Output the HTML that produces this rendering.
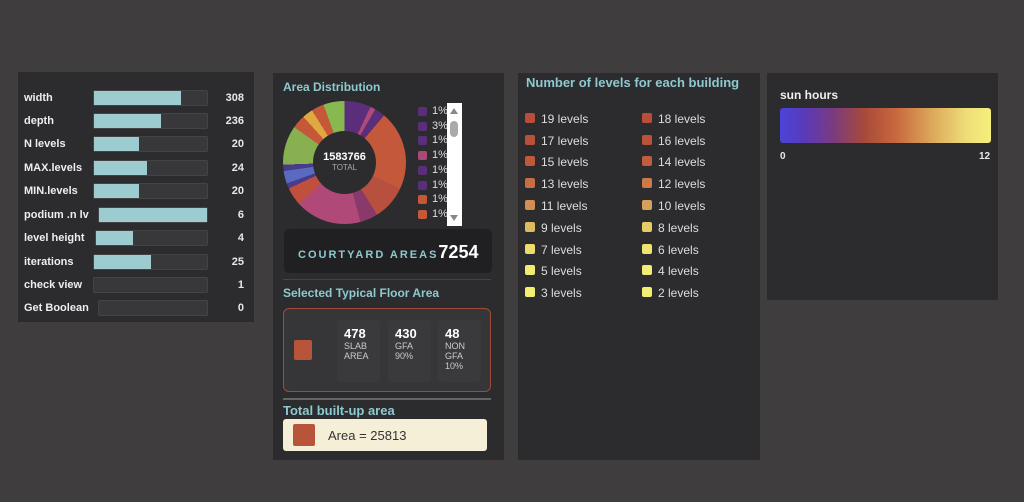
<!DOCTYPE html>
<html><head><meta charset="utf-8"><style>
*{box-sizing:border-box;margin:0;padding:0}
body{width:1024px;height:502px;background:#3f3d3d;font-family:"Liberation Sans",Arial,sans-serif;position:relative;overflow:hidden;color:#e8e8e8}
.p{position:absolute;background:#2c2c2e}
.row{position:absolute;left:6px;font-size:11px;font-weight:bold;color:#eee}
.bar{position:absolute;height:16px;background:#38383a;border:1px solid #444;border-radius:2px}
.bar i{display:block;height:100%;background:#9ccbd0}
.val{position:absolute;right:10px;font-size:11px;font-weight:bold;text-align:right}
.t{position:absolute;color:#8ec9cf;font-weight:bold;font-size:12px}
.lg{position:absolute;font-size:11px;color:#ddd}
.lg b{position:absolute;left:-14px;top:2px;width:9px;height:9px;border-radius:2px}
.lv{position:absolute;font-size:12px;color:#ddd}
.lv b{position:absolute;left:-16px;top:1px;width:10px;height:10px;border-radius:2px}
.box{position:absolute;top:11px;width:43px;height:62px;background:#3a3a3d;border-radius:4px;padding:6px 0 0 7px;font-size:9px;color:#ccc;line-height:10px}
.box div{font-size:13px;font-weight:bold;color:#fff;line-height:15px}
</style></head><body>

<div class="p" style="left:18px;top:72px;width:236px;height:250px">
<div class="row" style="top:20px">width</div><div class="bar" style="left:75px;top:18px;width:115px"><i style="width:77%"></i></div><div class="val" style="top:20px">308</div>
<div class="row" style="top:43px">depth</div><div class="bar" style="left:75px;top:41px;width:115px"><i style="width:59%"></i></div><div class="val" style="top:43px">236</div>
<div class="row" style="top:66px">N levels</div><div class="bar" style="left:75px;top:64px;width:115px"><i style="width:40%"></i></div><div class="val" style="top:66px">20</div>
<div class="row" style="top:90px">MAX.levels</div><div class="bar" style="left:75px;top:88px;width:115px"><i style="width:47%"></i></div><div class="val" style="top:90px">24</div>
<div class="row" style="top:113px">MIN.levels</div><div class="bar" style="left:75px;top:111px;width:115px"><i style="width:40%"></i></div><div class="val" style="top:113px">20</div>
<div class="row" style="top:137px">podium .n lv</div><div class="bar" style="left:80px;top:135px;width:110px"><i style="width:100%"></i></div><div class="val" style="top:137px">6</div>
<div class="row" style="top:160px">level height</div><div class="bar" style="left:77px;top:158px;width:113px"><i style="width:33%"></i></div><div class="val" style="top:160px">4</div>
<div class="row" style="top:184px">iterations</div><div class="bar" style="left:75px;top:182px;width:115px"><i style="width:50%"></i></div><div class="val" style="top:184px">25</div>
<div class="row" style="top:207px">check view</div><div class="bar" style="left:75px;top:205px;width:115px"></div><div class="val" style="top:207px">1</div>
<div class="row" style="top:230px">Get Boolean</div><div class="bar" style="left:80px;top:228px;width:110px"></div><div class="val" style="top:230px">0</div>
</div>

<div class="p" style="left:273px;top:73px;width:231px;height:387px">
<div class="t" style="left:10px;top:7px">Area Distribution</div>
<div style="position:absolute;left:10px;top:28px;width:123px;height:123px;border-radius:50%;background:conic-gradient(#5a2e7a 0 25deg,#b04a78 25deg 30deg,#5a2e7a 30deg 40deg,#c4583a 40deg 115deg,#b85040 115deg 148deg,#8a3a6a 148deg 165deg,#b04878 165deg 228deg,#c0503c 228deg 245deg,#4a3a8a 245deg 250deg,#5a6ac0 250deg 262deg,#4a3a8a 262deg 268deg,#88b050 268deg 305deg,#c45838 305deg 318deg,#e0a840 318deg 328deg,#c45838 328deg 340deg,#88b850 340deg 360deg)"></div>
<div style="position:absolute;left:40px;top:58px;width:63px;height:63px;border-radius:50%;background:#2c2c2e;text-align:center;padding-top:20px;font-size:11px;font-weight:bold;color:#fff">1583766<div style="font-size:8px;font-weight:normal;color:#aaa">TOTAL</div></div>
<div class="lg" style="left:159px;top:32px"><b style="background:#5a2e7a"></b>1%</div>
<div class="lg" style="left:159px;top:47px"><b style="background:#5a2e7a"></b>3%</div>
<div class="lg" style="left:159px;top:61px"><b style="background:#5a2e7a"></b>1%</div>
<div class="lg" style="left:159px;top:76px"><b style="background:#a84a78"></b>1%</div>
<div class="lg" style="left:159px;top:91px"><b style="background:#5a2e7a"></b>1%</div>
<div class="lg" style="left:159px;top:106px"><b style="background:#5a2e7a"></b>1%</div>
<div class="lg" style="left:159px;top:120px"><b style="background:#c45838"></b>1%</div>
<div class="lg" style="left:159px;top:135px"><b style="background:#c45838"></b>1%</div>
<div style="position:absolute;left:174px;top:30px;width:15px;height:123px;background:#fff"><div style="position:absolute;left:3px;top:18px;width:8px;height:16px;background:#aaa;border-radius:4px"></div><div style="position:absolute;left:3px;top:5px;border:4px solid transparent;border-bottom:6px solid #888;border-top:0"></div><div style="position:absolute;left:3px;bottom:5px;border:4px solid transparent;border-top:6px solid #888;border-bottom:0"></div></div>
<div style="position:absolute;left:11px;top:156px;width:208px;height:44px;background:#202022;border-radius:5px;padding:13px 0 0 14px;color:#8ec9cf;font-size:11px;font-weight:bold;letter-spacing:2px">COURTYARD AREAS<span style="font-size:18px;color:#fff;letter-spacing:0">7254</span></div>
<div style="position:absolute;left:10px;top:206px;width:208px;height:1px;background:#444"></div>
<div class="t" style="left:10px;top:213px">Selected Typical Floor Area</div>
<div style="position:absolute;left:10px;top:235px;width:208px;height:84px;background:#363638;border:1px solid #a04a3a;border-radius:6px">
<div style="position:absolute;left:10px;top:31px;width:18px;height:20px;background:#b8543a;border-radius:2px"></div>
<div class="box" style="left:53px"><div>478</div>SLAB<br>AREA</div>
<div class="box" style="left:104px"><div>430</div>GFA<br>90%</div>
<div class="box" style="left:154px"><div>48</div>NON<br>GFA<br>10%</div>
</div>
<div style="position:absolute;left:10px;top:325px;width:208px;height:2px;background:#666"></div>
<div class="t" style="left:10px;top:330px;font-size:13px">Total built-up area</div>
<div style="position:absolute;left:10px;top:346px;width:204px;height:32px;background:#f5efd8;border-radius:3px">
<div style="position:absolute;left:10px;top:5px;width:22px;height:22px;background:#b8543a;border-radius:2px"></div>
<div style="position:absolute;left:45px;top:9px;font-size:13px;color:#333">Area = 25813</div></div>
</div>

<div class="p" style="left:518px;top:73px;width:242px;height:387px">
<div class="t" style="left:8px;top:2px;font-size:13px">Number of levels for each building</div>
<div class="lv" style="left:23px;top:39px"><b style="background:#b84e3a"></b>19 levels</div><div class="lv" style="left:140px;top:39px"><b style="background:#b84e3a"></b>18 levels</div>
<div class="lv" style="left:23px;top:61px"><b style="background:#bb503a"></b>17 levels</div><div class="lv" style="left:140px;top:61px"><b style="background:#bb523a"></b>16 levels</div>
<div class="lv" style="left:23px;top:82px"><b style="background:#c0583c"></b>15 levels</div><div class="lv" style="left:140px;top:82px"><b style="background:#c25c3e"></b>14 levels</div>
<div class="lv" style="left:23px;top:104px"><b style="background:#c86c44"></b>13 levels</div><div class="lv" style="left:140px;top:104px"><b style="background:#cc7a4a"></b>12 levels</div>
<div class="lv" style="left:23px;top:126px"><b style="background:#d08e52"></b>11 levels</div><div class="lv" style="left:140px;top:126px"><b style="background:#d6a058"></b>10 levels</div>
<div class="lv" style="left:23px;top:148px"><b style="background:#dcba60"></b>9 levels</div><div class="lv" style="left:140px;top:148px"><b style="background:#e4cc66"></b>8 levels</div>
<div class="lv" style="left:23px;top:170px"><b style="background:#ecdc6c"></b>7 levels</div><div class="lv" style="left:140px;top:170px"><b style="background:#f0e470"></b>6 levels</div>
<div class="lv" style="left:23px;top:191px"><b style="background:#f2ea72"></b>5 levels</div><div class="lv" style="left:140px;top:191px"><b style="background:#f2ec74"></b>4 levels</div>
<div class="lv" style="left:23px;top:213px"><b style="background:#f2ee74"></b>3 levels</div><div class="lv" style="left:140px;top:213px"><b style="background:#f2ee74"></b>2 levels</div>
</div>

<div class="p" style="left:767px;top:73px;width:231px;height:227px">
<div style="position:absolute;left:13px;top:15px;font-size:12px;font-weight:bold;color:#eee">sun hours</div>
<div style="position:absolute;left:13px;top:35px;width:211px;height:35px;border-radius:3px;background:linear-gradient(90deg,#4a44d8 0%,#5a3ab8 12%,#7a3a80 25%,#a84a3a 40%,#c8683e 55%,#dca85a 72%,#eedc78 88%,#f4f07c 100%)"></div>
<div style="position:absolute;left:13px;top:78px;font-size:10px;font-weight:bold">0</div>
<div style="position:absolute;left:212px;top:78px;font-size:10px;font-weight:bold">12</div>
</div>
</body></html>
